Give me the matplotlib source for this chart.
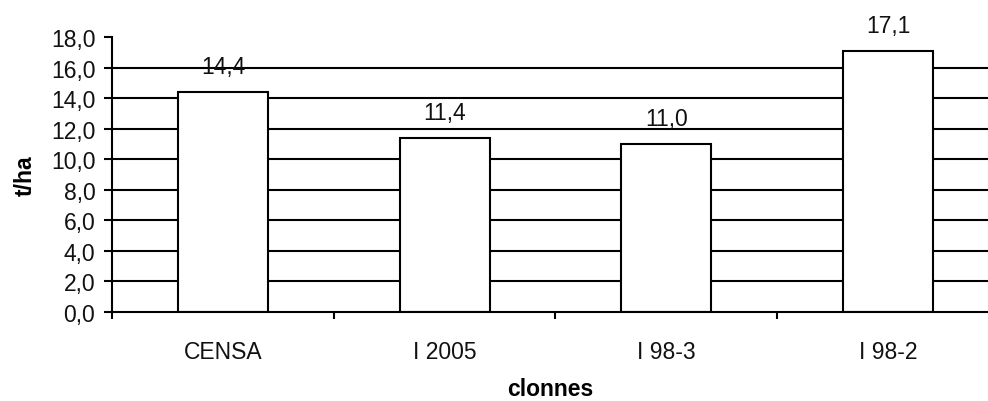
import matplotlib.pyplot as plt
from matplotlib.ticker import FuncFormatter, FixedLocator

clones = ['CENSA', 'I 2005', 'I 98-3', 'I 98-2']
yields = [14.4, 11.4, 11.0, 17.1]
value_labels = ['14,4', '11,4', '11,0', '17,1']
y_ticks = [0, 2, 4, 6, 8, 10, 12, 14, 16, 18]

plt.rcParams['font.family'] = ['Liberation Sans', 'DejaVu Sans']

fig = plt.figure(figsize=(9.88, 4.02), dpi=100)
ax = fig.add_axes([0.1134, 0.2214, 0.8866, 0.6841])

x = list(range(len(clones)))
ax.bar(x, yields, width=0.406, color='white', edgecolor='black',
       linewidth=1.5, zorder=3)

for xi, v, lab in zip(x, yields, value_labels):
    ax.annotate(lab, (xi, v), xytext=(0, 18.5), textcoords='offset points',
                ha='center', va='center', fontsize=16.5, color='#111111')

ax.set_xlim(-0.5, 3.451)
ax.set_ylim(0, 18)
ax.set_yticks(y_ticks)
ax.yaxis.set_major_formatter(FuncFormatter(lambda v, p: f'{v:.1f}'.replace('.', ',')))

ax.set_xticks(x)
ax.set_xticklabels(clones)
ax.xaxis.set_minor_locator(FixedLocator([-0.5, 0.5, 1.5, 2.5, 3.5]))
ax.tick_params(axis='x', which='major', length=0, pad=20, labelsize=16.5,
               labelcolor='#111111')
ax.tick_params(axis='x', which='minor', length=5, width=1.5, color='black')
ax.tick_params(axis='y', length=6, width=1.5, pad=6, labelsize=16.5,
               labelcolor='#111111')

ax.yaxis.grid(True, color='black', linewidth=1.5, zorder=1)
ax.set_axisbelow(True)
gl = ax.get_ygridlines()
gl[-1].set_visible(False)
gl[0].set_visible(False)

for s in ['top', 'right']:
    ax.spines[s].set_visible(False)
for s in ['left', 'bottom']:
    ax.spines[s].set_linewidth(1.5)
    ax.spines[s].set_zorder(4)

ax.set_xlabel('clonnes', fontsize=16.5, fontweight='bold', labelpad=10)
ax.set_ylabel('t/ha', fontsize=16.5, fontweight='bold', labelpad=10)

fig.savefig('out.png', dpi=100)
